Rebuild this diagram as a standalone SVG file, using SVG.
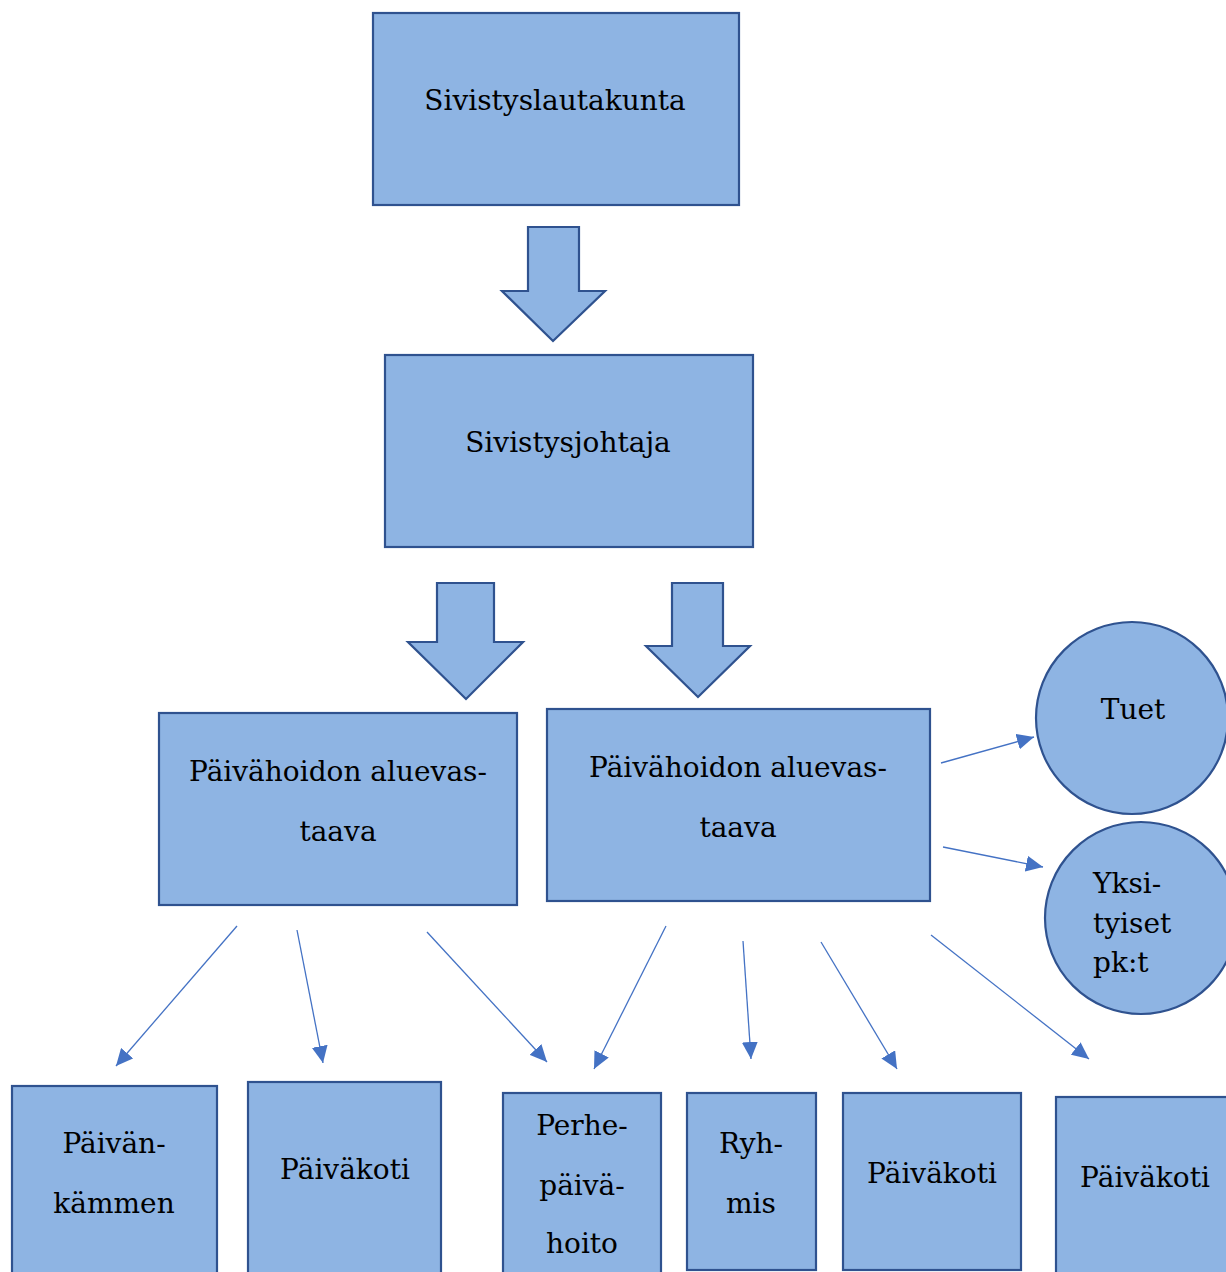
<svg xmlns="http://www.w3.org/2000/svg" width="1226" height="1272" viewBox="0 0 1226 1272">
<defs>
<style>
.n{fill:#8EB4E3;stroke:#2F528F;stroke-width:2.2}
.t{font-family:"DejaVu Serif","Liberation Serif",serif;font-size:28px;fill:#000;text-anchor:middle}
.l{text-anchor:start}
.c{stroke:#4472C4;stroke-width:1.3;fill:none;marker-end:url(#ah)}
</style>
<marker id="ah" markerUnits="userSpaceOnUse" markerWidth="19" markerHeight="16" refX="17" refY="8" orient="auto">
<path d="M0,0 L17,8 L0,16 Z" fill="#4472C4"/>
</marker>
</defs>
<rect width="1226" height="1272" fill="#fff"/>
<g id="sivistyslautakunta"><rect class="n" x="373" y="13" width="366" height="192"/><text class="t" x="555" y="110">Sivistyslautakunta</text></g>
<g id="arrow1"><polygon class="n" points="528,227 579,227 579,291 605,291 553,341 502,291 528,291"/></g>
<g id="sivistysjohtaja"><rect class="n" x="385" y="355" width="368" height="192"/><text class="t" x="568" y="452">Sivistysjohtaja</text></g>
<g id="arrow2"><polygon class="n" points="437,583 494,583 494,642 523,642 466,699 408,642 437,642"/></g>
<g id="arrow3"><polygon class="n" points="672,583 723,583 723,646 750,646 698,697 646,646 672,646"/></g>
<g id="alue1"><rect class="n" x="159" y="713" width="358" height="192"/><text class="t" x="338" y="781">Päivähoidon aluevas-</text><text class="t" x="338" y="841">taava</text></g>
<g id="alue2"><rect class="n" x="547" y="709" width="383" height="192"/><text class="t" x="738" y="777">Päivähoidon aluevas-</text><text class="t" x="738" y="837">taava</text></g>
<g id="tuet"><circle class="n" cx="1132" cy="718" r="96"/><text class="t" x="1133" y="719">Tuet</text></g>
<g id="yksityiset"><circle class="n" cx="1141" cy="918" r="96"/><text class="t l" x="1093" y="893">Yksi-</text><text class="t l" x="1093" y="933">tyiset</text><text class="t l" x="1093" y="972">pk:t</text></g>
<g id="paivankammen"><rect class="n" x="12" y="1086" width="205" height="200"/><text class="t" x="114" y="1153">Päivän-</text><text class="t" x="114" y="1213">kämmen</text></g>
<g id="paivakoti1"><rect class="n" x="248" y="1082" width="193" height="200"/><text class="t" x="345" y="1179">Päiväkoti</text></g>
<g id="perhepaivahoito"><rect class="n" x="503" y="1093" width="158" height="200"/><text class="t" x="582" y="1135">Perhe-</text><text class="t" x="582" y="1195">päivä-</text><text class="t" x="582" y="1253">hoito</text></g>
<g id="ryhmis"><rect class="n" x="687" y="1093" width="129" height="177"/><text class="t" x="751" y="1153">Ryh-</text><text class="t" x="751" y="1213">mis</text></g>
<g id="paivakoti2"><rect class="n" x="843" y="1093" width="178" height="177"/><text class="t" x="932" y="1183">Päiväkoti</text></g>
<g id="paivakoti3"><rect class="n" x="1056" y="1097" width="190" height="200"/><text class="t" x="1145" y="1187">Päiväkoti</text></g>
<g id="connectors">
<line class="c" x1="941" y1="763" x2="1034" y2="737"/>
<line class="c" x1="943" y1="847" x2="1043" y2="867"/>
<line class="c" x1="237" y1="926" x2="116" y2="1066"/>
<line class="c" x1="297" y1="930" x2="323" y2="1063"/>
<line class="c" x1="427" y1="932" x2="547" y2="1062"/>
<line class="c" x1="666" y1="926" x2="594" y2="1069"/>
<line class="c" x1="743" y1="941" x2="751" y2="1059"/>
<line class="c" x1="821" y1="942" x2="897" y2="1069"/>
<line class="c" x1="931" y1="935" x2="1089" y2="1059"/>
</g>
</svg>
